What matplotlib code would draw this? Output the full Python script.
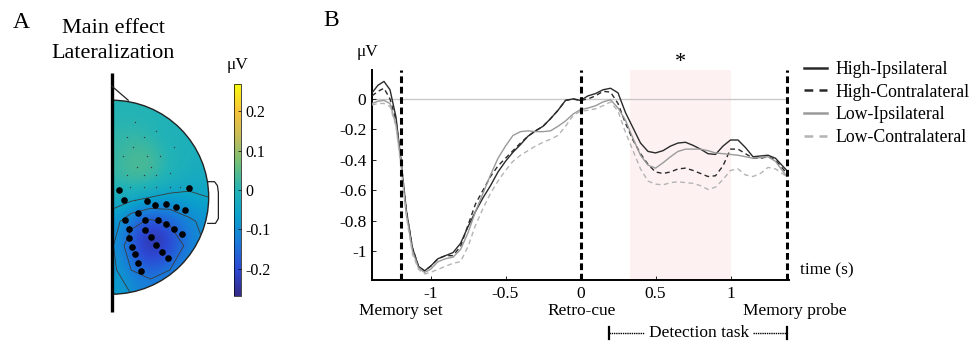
import numpy as np
import matplotlib
matplotlib.use("Agg")
import matplotlib.pyplot as plt
from matplotlib.colors import LinearSegmentedColormap
from matplotlib.patches import Wedge, Arc

plt.rcParams["font.family"] = ["Liberation Serif", "DejaVu Serif"]
plt.rcParams["axes.unicode_minus"] = False

# ---- panel B data (time in s, amplitude in microvolts) ----
t = [-1.39, -1.35, -1.31, -1.27, -1.23, -1.2, -1.16, -1.12, -1.08, -1.04,
     -1.0, -0.95, -0.9, -0.85, -0.8, -0.75, -0.7, -0.65, -0.6, -0.55,
     -0.5, -0.45, -0.4, -0.35, -0.3, -0.25, -0.2, -0.15, -0.1, -0.05,
     0.0, 0.05, 0.1, 0.15, 0.2, 0.25, 0.3, 0.35, 0.4, 0.45,
     0.5, 0.55, 0.6, 0.65, 0.7, 0.75, 0.8, 0.85, 0.9, 0.95,
     1.0, 1.05, 1.1, 1.15, 1.2, 1.25, 1.3, 1.375]

hi_ipsi = [0.04, 0.09, 0.115, 0.06, -0.12, -0.38, -0.74, -0.98, -1.10, -1.13,
           -1.10, -1.05, -1.03, -1.01, -0.95, -0.84, -0.74, -0.65, -0.57, -0.48,
           -0.41, -0.35, -0.30, -0.245, -0.21, -0.18, -0.13, -0.075, -0.01, 0.0,
           -0.01, 0.02, 0.035, 0.06, 0.07, 0.04, -0.09, -0.19, -0.29, -0.345,
           -0.355, -0.34, -0.31, -0.29, -0.285, -0.305, -0.33, -0.36, -0.365, -0.31,
           -0.27, -0.27, -0.32, -0.38, -0.375, -0.37, -0.39, -0.47]

hi_contra = [0.02, 0.05, 0.07, 0.0, -0.14, -0.38, -0.74, -0.98, -1.10, -1.13,
             -1.10, -1.05, -1.03, -1.03, -0.97, -0.83, -0.69, -0.60, -0.51, -0.44,
             -0.39, -0.34, -0.29, -0.245, -0.21, -0.18, -0.13, -0.075, -0.01, 0.0,
             -0.01, 0.0, 0.02, 0.05, 0.045, -0.03, -0.16, -0.27, -0.36, -0.43,
             -0.48, -0.49, -0.48, -0.46, -0.455, -0.47, -0.49, -0.51, -0.505, -0.44,
             -0.33, -0.33, -0.36, -0.39, -0.39, -0.38, -0.40, -0.49]

lo_ipsi = [-0.03, -0.015, -0.01, -0.03, -0.17, -0.40, -0.76, -1.0, -1.11, -1.14,
           -1.12, -1.07, -1.05, -1.04, -0.99, -0.88, -0.74, -0.62, -0.50, -0.39,
           -0.31, -0.24, -0.215, -0.21, -0.215, -0.215, -0.21, -0.18, -0.145, -0.10,
           -0.07, -0.06, -0.045, -0.02, -0.005, -0.06, -0.14, -0.26, -0.37, -0.435,
           -0.455, -0.42, -0.38, -0.345, -0.33, -0.33, -0.33, -0.34, -0.355, -0.36,
           -0.365, -0.37, -0.38, -0.39, -0.385, -0.38, -0.41, -0.51]

lo_contra = [-0.04, -0.03, -0.03, -0.05, -0.18, -0.42, -0.78, -1.02, -1.12, -1.15,
             -1.14, -1.12, -1.10, -1.08, -1.07, -0.97, -0.83, -0.72, -0.62, -0.54,
             -0.47, -0.41, -0.37, -0.34, -0.31, -0.285, -0.265, -0.24, -0.18, -0.11,
             -0.08, -0.075, -0.065, -0.045, -0.02, -0.08, -0.22, -0.34, -0.46, -0.54,
             -0.56, -0.565, -0.55, -0.545, -0.55, -0.555, -0.57, -0.595, -0.58, -0.53,
             -0.47, -0.46, -0.50, -0.51, -0.49, -0.45, -0.46, -0.51]

labels = ["High-Ipsilateral", "High-Contralateral", "Low-Ipsilateral", "Low-Contralateral"]
event_times = [-1.2, 0.0, 1.375]
event_labels = ["Memory set", "Retro-cue", "Memory probe"]
event_label_x = [-1.2, 0.01, 1.43]
sig_window = [0.33, 1.0]
task_window = [0.19, 1.375]

# ---- panel A data: coarse topography (rows front->back, cols midline->right) ----
topo_vals = np.array([
    [0.00, 0.00, 0.00, 0.00, 0.00, 0.00],
    [0.01, 0.01, 0.00, -0.01, -0.01, -0.01],
    [0.02, 0.04, 0.03, 0.00, -0.01, -0.02],
    [0.02, 0.04, 0.03, 0.00, -0.02, -0.03],
    [-0.02, -0.03, -0.05, -0.06, -0.06, -0.05],
    [-0.08, -0.15, -0.18, -0.16, -0.12, -0.09],
    [-0.10, -0.21, -0.26, -0.22, -0.15, -0.10],
    [-0.09, -0.17, -0.20, -0.17, -0.12, -0.09],
    [-0.07, -0.11, -0.12, -0.10, -0.08, -0.07],
])
sig_x = [0.08, 0.80, 0.13, 0.36, 0.45, 0.56, 0.66, 0.76, 0.27, 0.14, 0.34, 0.48, 0.18,
         0.34, 0.56, 0.64, 0.73, 0.18, 0.40, 0.21, 0.46, 0.52, 0.24, 0.58, 0.27, 0.30]
sig_y = [0.07, 0.09, -0.03, -0.04, -0.08, -0.07, -0.10, -0.13, -0.16, -0.24, -0.23, -0.23, -0.33,
         -0.34, -0.28, -0.33, -0.38, -0.42, -0.41, -0.51, -0.49, -0.56, -0.59, -0.63, -0.68, -0.76]
oth_x = [0.24, 0.16, 0.33, 0.46, 0.64, 0.22, 0.36, 0.12, 0.50, 0.26, 0.40, 0.16, 0.33,
         0.46, 0.60, 0.19, 0.33, 0.46, 0.60, 0.70, 0.24]
oth_y = [0.78, 0.62, 0.62, 0.68, 0.52, 0.52, 0.42, 0.42, 0.42, 0.31, 0.31, 0.23, 0.23,
         0.23, 0.25, 0.11, 0.11, 0.11, 0.11, 0.11, -0.03]

parula = LinearSegmentedColormap.from_list("parula", [
    (0.0, "#352a87"), (0.125, "#2d48d4"), (0.25, "#1a78da"), (0.375, "#0aa0cc"),
    (0.5, "#22b3b6"), (0.625, "#6fbf78"), (0.75, "#c4bc5a"), (0.875, "#f8c439"),
    (1.0, "#f9fb0e")])

W, H = 973, 346
fig = plt.figure(figsize=(W / 100, H / 100), dpi=100)


def fx(px):
    return px / W


def fy(py):
    return 1 - py / H


# ================= panel A =================
axA = fig.add_axes([fx(100), fy(320), 130 / W, 255 / H])
axA.set_xlim(-0.121, 1.22)
axA.set_ylim(-1.266, 1.363)
axA.axis("off")

head = Wedge((0, 0), 1.0, -90, 90, transform=axA.transData)
im = axA.imshow(topo_vals, cmap=parula, vmin=-0.27, vmax=0.27,
                extent=(0, 1, -1, 1), interpolation="bicubic", aspect="auto")
im.set_clip_path(head)
gx = np.linspace(0, 1, topo_vals.shape[1])
gy = np.linspace(1, -1, topo_vals.shape[0])
cs = axA.contour(gx, gy, topo_vals, levels=[-0.17, -0.11, -0.05],
                 colors="#3a3a3a", linewidths=0.6, linestyles="solid")
cs.set_clip_path(head)
axA.scatter(oth_x, oth_y, s=1.0, color="#3c3c3c", lw=0, zorder=3)
axA.scatter(sig_x, sig_y, s=14, color="black", zorder=4)
axA.add_patch(Arc((0, 0), 2.0, 2.0, theta1=-90, theta2=90, color="#222222", lw=1.0))
axA.plot([0, 0], [1.284, -1.18], color="black", lw=2.4, solid_capstyle="butt")
axA.plot([0.0, 0.17], [1.146, 1.0], color="#222222", lw=0.9)
axA.plot([0.99, 1.06, 1.09, 1.10, 1.10, 1.07, 0.99],
         [0.16, 0.16, 0.12, 0.05, -0.22, -0.27, -0.27], color="#222222", lw=0.9)

cax = fig.add_axes([fx(234.3), fy(296), 6.7 / W, 212 / H])
cb = fig.colorbar(im, cax=cax, ticks=[-0.2, -0.1, 0, 0.1, 0.2])
cb.ax.set_yticklabels(["-0.2", "-0.1", "0", "0.1", "0.2"], fontsize=11.5)
cb.ax.tick_params(direction="in", length=2, width=0.5, pad=3)
cb.outline.set_linewidth(0.5)
fig.text(fx(237), fy(65), "\u03bcV", fontsize=12.5, ha="center", va="center")

fig.text(fx(21), fy(23), "A", fontsize=17, ha="center", va="center")
fig.text(fx(113), fy(41), "Main effect\nLateralization", fontsize=16,
         ha="center", va="center", linespacing=1.45)

# ================= panel B =================
ax = fig.add_axes([fx(372), fy(280), 417 / W, 210 / H])
ax.set_xlim(-1.39, 1.39)
ax.set_ylim(-1.19, 0.19)

ax.axvspan(sig_window[0], sig_window[1], color="#fdf2f1", lw=0, zorder=0)
ax.axhline(0, color="#c8c8c8", lw=1.0, zorder=1)
for et in event_times:
    ax.axvline(et, color="black", lw=2.2, linestyle=(0, (2.2, 1.2)), zorder=5)

styles = [("#2a2a2a", "-"), ("#2a2a2a", (0, (3.5, 2.5))),
          ("#9a9a9a", "-"), ("#b4b4b4", (0, (3.5, 2.5)))]
series = [hi_ipsi, hi_contra, lo_ipsi, lo_contra]
for vals, lab, (col, ls) in zip(series, labels, styles):
    ax.plot(t, vals, color=col, linestyle=ls, lw=1.0, label=lab, zorder=3)

for side in ["top", "right"]:
    ax.spines[side].set_visible(False)
ax.spines["left"].set_linewidth(1.4)
ax.spines["bottom"].set_linewidth(1.4)
ax.set_xticks([-1, -0.5, 0, 0.5, 1])
ax.set_xticklabels(["-1", "-0.5", "0", "0.5", "1"])
ax.set_yticks([-1, -0.8, -0.6, -0.4, -0.2, 0])
ax.set_yticklabels(["-1", "-0.8", "-0.6", "-0.4", "-0.2", "0"])
ax.tick_params(direction="in", length=3, width=0.6, labelsize=12.5, pad=4)

ax.text(-0.01, 1.086, "\u03bcV", transform=ax.transAxes, fontsize=12.5,
        ha="center", va="center")
ax.text(1.026, 0.048, "time (s)", transform=ax.transAxes, fontsize=12.5,
        ha="left", va="center")
ax.text(np.mean(sig_window), 1.035, "*", transform=ax.get_xaxis_transform(),
        fontsize=16, ha="center", va="center")
for ex, lab in zip(event_label_x, event_labels):
    ax.text(ex, -0.148, lab, transform=ax.get_xaxis_transform(), fontsize=12.5,
            ha="center", va="center")

tr = ax.get_xaxis_transform()
ytask = -0.252
ax.plot([task_window[0], 0.42], [ytask, ytask], transform=tr, clip_on=False,
        color="black", lw=1.0, linestyle=(0, (1, 0.6)))
ax.plot([1.153, task_window[1]], [ytask, ytask], transform=tr, clip_on=False,
        color="black", lw=1.0, linestyle=(0, (1, 0.6)))
for xe in task_window:
    ax.plot([xe, xe], [ytask - 0.03, ytask + 0.03], transform=tr, clip_on=False,
            color="black", lw=1.6)
ax.text(0.79, ytask, "Detection task", transform=tr, fontsize=12.5,
        ha="center", va="center")

fig.text(fx(331), fy(20), "B", fontsize=17, ha="center", va="center")

leg = ax.legend(loc="upper left", bbox_to_anchor=(fx(804), fy(61)),
                bbox_transform=fig.transFigure, frameon=False, fontsize=12.8,
                handlelength=1.3, handletextpad=0.45, labelspacing=0.32,
                borderpad=0, borderaxespad=0)
for ln in leg.get_lines():
    ln.set_linewidth(1.8)

fig.savefig("out.png", dpi=100)
